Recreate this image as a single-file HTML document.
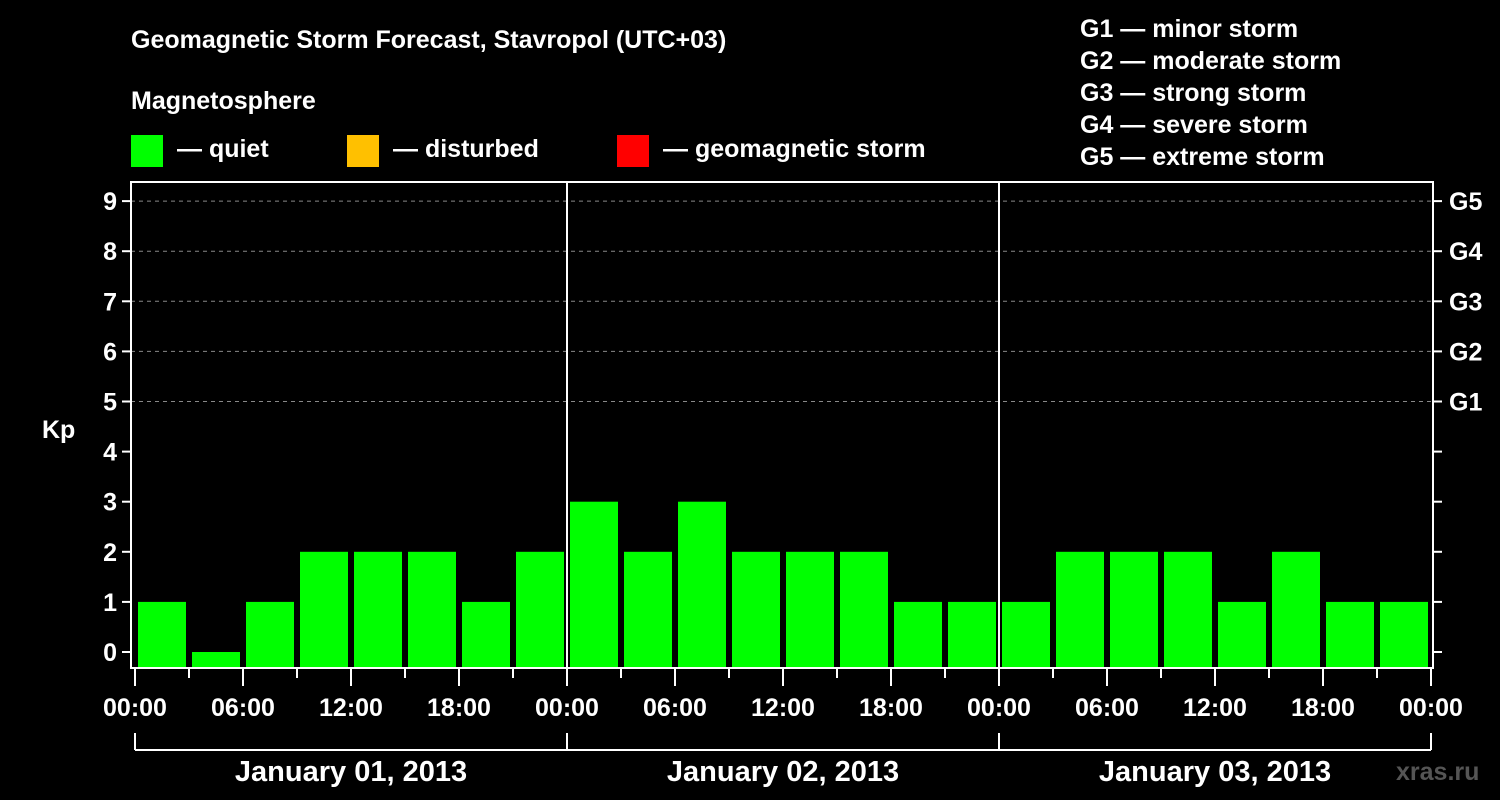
<!DOCTYPE html>
<html><head><meta charset="utf-8"><style>
body{margin:0;background:#000;width:1500px;height:800px;overflow:hidden}
svg{display:block}
text{font-family:"Liberation Sans",Arial,sans-serif;font-weight:bold;fill:#fff}
</style></head><body>
<svg id="c" width="1500" height="800">
<text x="131" y="48" font-size="25">Geomagnetic Storm Forecast, Stavropol (UTC+03)</text>
<text x="131" y="109" font-size="25">Magnetosphere</text>
<rect x="131" y="135" width="32" height="32" fill="#00ff00"/>
<text x="177" y="157" font-size="25">— quiet</text>
<rect x="347" y="135" width="32" height="32" fill="#ffc000"/>
<text x="393" y="157" font-size="25">— disturbed</text>
<rect x="617" y="135" width="32" height="32" fill="#ff0000"/>
<text x="663" y="157" font-size="25">— geomagnetic storm</text>
<g font-size="25">
<text x="1080" y="37">G1 — minor storm</text>
<text x="1080" y="69">G2 — moderate storm</text>
<text x="1080" y="101">G3 — strong storm</text>
<text x="1080" y="133">G4 — severe storm</text>
<text x="1080" y="165">G5 — extreme storm</text>
</g>
<text x="42" y="438" font-size="25">Kp</text>
<text x="1396" y="780" font-size="25" fill="#555" style="fill:#555">xras.ru</text>
<g id="plot"></g>
</svg>
<script>
const days=["January 01, 2013","January 02, 2013","January 03, 2013"];
const hourLabels=["00:00","06:00","12:00","18:00"];
const kpValues=[1,0,1,2,2,2,1,2, 3,2,3,2,2,2,1,1, 1,2,2,2,1,2,1,1];
const gLabels=["G1","G2","G3","G4","G5"];
const NS="http://www.w3.org/2000/svg";
const g=document.getElementById('plot');
const X0=135,DAYW=432,Y0=652,UNIT=50.1,TOP=182,BOT=668,L=131,R=1433;
const xs=h=>X0+h*DAYW/24;
const ys=v=>Y0-v*UNIT;
function el(t,a){const e=document.createElementNS(NS,t);for(const k in a)e.setAttribute(k,a[k]);g.appendChild(e);return e;}
// grid
for(let v=5;v<=9;v++){const e=el('line',{x1:L,x2:R,y1:ys(v),y2:ys(v),stroke:'#888','stroke-dasharray':'4,4','stroke-width':1});

}
// bars
const colors=v=>v>=5?'#ff0000':(v>=4?'#ffc000':'#00ff00');
kpValues.forEach((v,i)=>{const x=xs(i*3)+3;const y=ys(v);
const b=el('rect',{x:x,y:Math.min(y,BOT),width:48,height:Math.max(0,BOT-y),fill:colors(v)});

});
// frame
const f=el('rect',{x:L,y:TOP,width:R-L,height:BOT-TOP,fill:'none',stroke:'#fff','stroke-width':2});


// day separators
for(let d=1;d<days.length;d++){const e=el('line',{x1:xs(d*24),x2:xs(d*24),y1:TOP,y2:BOT,stroke:'#fff','stroke-width':2});

}
// y ticks & labels
for(let v=0;v<=9;v++){
const t=el('line',{x1:L-9,x2:L,y1:ys(v),y2:ys(v),stroke:'#fff','stroke-width':2});


const t2=el('line',{x1:R,x2:R+9,y1:ys(v),y2:ys(v),stroke:'#fff','stroke-width':2});


const l=el('text',{x:L-14,y:ys(v)+9,'text-anchor':'end','font-size':25});l.textContent=v;

}
gLabels.forEach((s,i)=>{const l=el('text',{x:1449,y:ys(5+i)+9,'font-size':25});l.textContent=s;

});
// x ticks
for(let h=0;h<=72;h+=3){const major=h%6===0;
const t=el('line',{x1:xs(h),x2:xs(h),y1:BOT,y2:BOT+(major?18:10),stroke:'#fff','stroke-width':2});


if(major){const l=el('text',{x:xs(h),y:716,'text-anchor':'middle','font-size':25});l.textContent=hourLabels[(h/6)%4];

}}
// day brackets
el('line',{x1:X0,x2:xs(72),y1:750,y2:750,stroke:'#fff','stroke-width':2});
for(let d=0;d<=days.length;d++){const e=el('line',{x1:xs(d*24),x2:xs(d*24),y1:733,y2:750,stroke:'#fff','stroke-width':2});

}
days.forEach((s,d)=>{const l=el('text',{x:xs(d*24+12),y:781,'text-anchor':'middle','font-size':29});l.textContent=s;

});
</script>
</body></html>
